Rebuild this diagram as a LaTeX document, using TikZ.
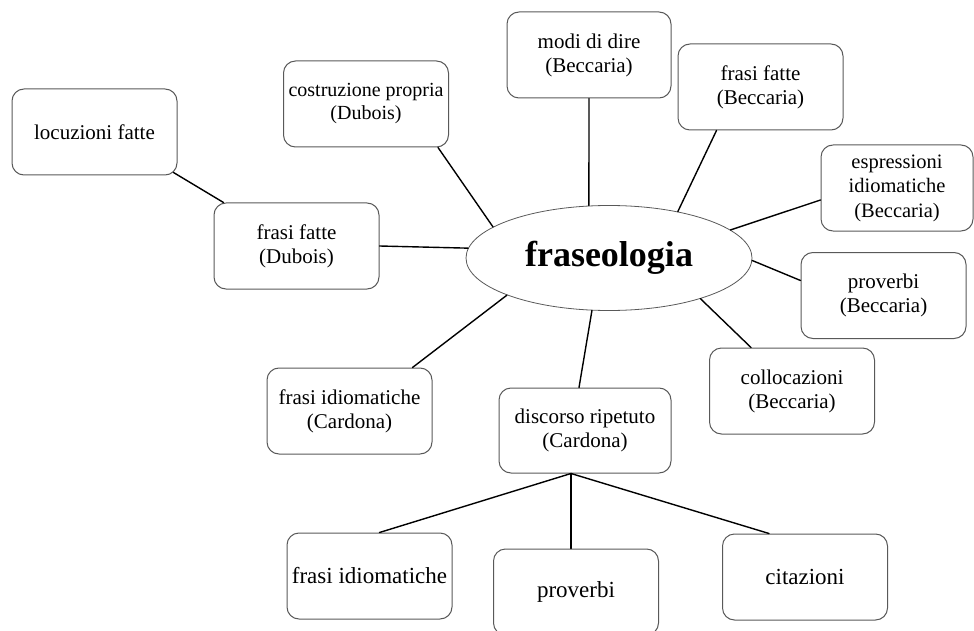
\documentclass[tikz,border=0pt]{standalone}
\usepackage{fontspec}
\setmainfont{Liberation Serif}
\usetikzlibrary{shapes.geometric}
\begin{document}
\begin{tikzpicture}[x=1pt,y=-1pt,line join=round,line cap=round]
	\tikzset{box/.style={draw=black!65,line width=1pt,rounded corners=12pt,minimum width=165pt,minimum height=86pt,inner sep=2pt,align=center,font=\fontsize{21}{24}\selectfont},
		big/.style={font=\fontsize{23}{26}\selectfont},
		link/.style={line width=1.4pt}}
	\useasboundingbox (0,0) rectangle (974,631);
	\node[ellipse,draw=black!65,line width=0.8pt,minimum width=286pt,minimum height=105pt,inner sep=0pt,font=\fontsize{36}{40}\selectfont\bfseries] (fras) at (609,258) {fraseologia};
	\node[box] (locuz) at (94.5,132) {locuzioni fatte};
	\node[box,font=\fontsize{20}{23}\selectfont] (costr) at (366,104) {costruzione propria\\(Dubois)};
	\node[box,minimum width=164pt] (modi) at (589,55) {modi di dire\\(Beccaria)};
	\node[box] (frasiB) at (760.5,87) {frasi fatte\\(Beccaria)};
	\node[box,minimum width=152pt,font=\fontsize{20.5}{24.5}\selectfont] (espr) at (897,188) {espressioni\\idiomatiche\\(Beccaria)};
	\node[box] (provB) at (883.5,295.5) {proverbi\\(Beccaria)};
	\node[box] (dubois) at (296.5,246) {frasi fatte\\(Dubois)};
	\node[box] (card) at (349.5,411) {frasi idiomatiche\\(Cardona)};
	\node[box,minimum width=172pt,minimum height=85pt] (disc) at (585,430.5) {discorso ripetuto\\(Cardona)};
	\node[box] (colloc) at (792,391) {collocazioni\\(Beccaria)};
	\node[box,big] (frasiI) at (369.5,576) {frasi idiomatiche};
	\node[box,big] (prov) at (576,592) {proverbi};
	\node[box,big] (citaz) at (805,577) {citazioni};
	\draw[link] ([shift={(-4,-3)}]locuz.south east) -- ([xshift=10pt]dubois.north west);
	\draw[link] (dubois.east) -- (fras.176);
	\draw[link] ([xshift=-11pt]costr.south east) -- (fras.165);
	\draw[link] (modi.south) -- (fras.111);
	\draw[link] ([xshift=39pt]frasiB.south west) -- (fras.34);
	\draw[link] ([yshift=-12pt]espr.west) -- (fras.13);
	\draw[link] ([yshift=15pt]provB.west) -- (fras.-1);
	\draw[link] ([xshift=42pt]colloc.north west) -- (fras.-24);
	\draw[link] ([xshift=-6pt]disc.north) -- (fras.-108);
	\draw[link] ([xshift=-20pt]card.north east) -- (fras.-160);
	\coordinate (split) at ([xshift=-14pt]disc.south);
	\draw[link] (split) -- ([xshift=10pt]frasiI.north);
	\draw[link] (split) -- (split |- prov.north);
	\draw[link] (split) -- ([xshift=-36pt]citaz.north);
\end{tikzpicture}
\end{document}
